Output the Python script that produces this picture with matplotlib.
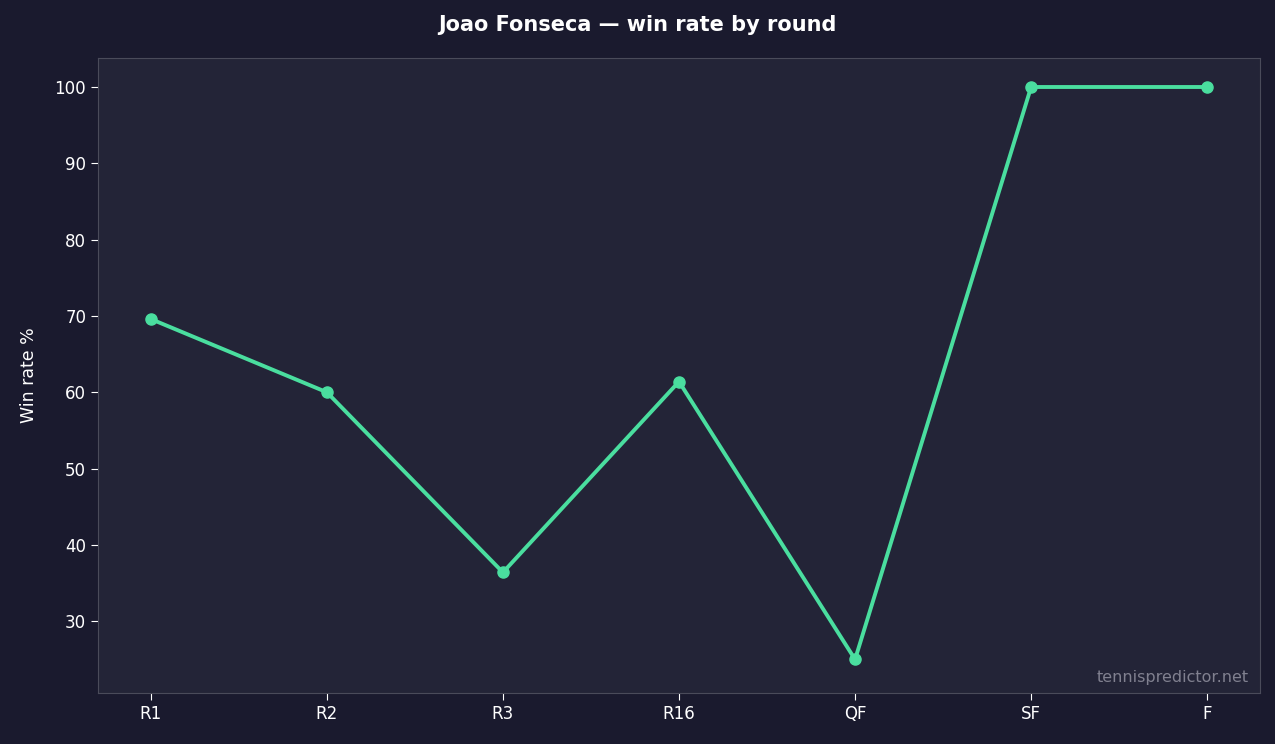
import matplotlib
matplotlib.use("Agg")
import matplotlib.pyplot as plt
plt.rcParams['font.family'] = ['DejaVu Sans']

rounds = ["R1", "R2", "R3", "R16", "QF", "SF", "F"]
win_rate = [69.6, 60.0, 36.4, 61.4, 25.0, 100.0, 100.0]

fig = plt.figure(figsize=(12.75, 7.44), dpi=100, facecolor="#1a1a2e")
ax = fig.add_axes([98/1275, 1-693/744, (1260-98)/1275, (693-58)/744])
ax.set_facecolor("#232437")
x = list(range(len(rounds)))
ax.plot(x, win_rate, color="#4ade9f", lw=2.8, marker="o", ms=8)
ax.set_xticks(x)
ax.set_xticklabels(rounds)
ax.set_xlim(-0.3, 6.3)
ax.set_ylim(20.6, 103.8)
ax.set_yticks([30, 40, 50, 60, 70, 80, 90, 100])
ax.tick_params(colors="white", labelsize=12, length=5)
for s in ax.spines.values():
    s.set_color("#4a4b5a")
ax.set_ylabel("Win rate %", color="white", fontsize=12.5, labelpad=12)
fig.suptitle("Joao Fonseca — win rate by round", color="white", fontsize=15, fontweight="bold", y=0.98)
ax.text(0.99, 0.012, "tennispredictor.net", transform=ax.transAxes, ha="right", va="bottom",
        color="#80808f", fontsize=11.5)
fig.savefig("out.png", dpi=100, facecolor=fig.get_facecolor())
